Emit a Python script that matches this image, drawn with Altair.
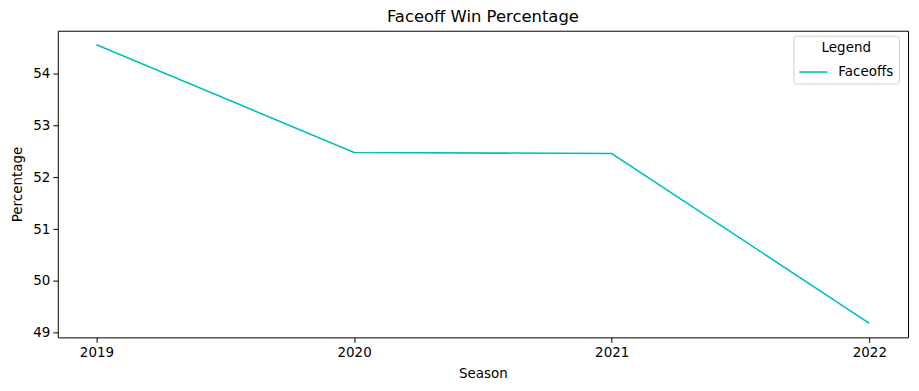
import altair as alt
import pandas as pd

seasons = [2019, 2020, 2021, 2022]
win_pct = [54.56, 52.48, 52.46, 49.18]
series = ["Faceoffs"] * 4

df = pd.DataFrame({"Season": seasons, "Percentage": win_pct, "Legend": series})

FONT = "DejaVu Sans"
FS = 13.5

chart = alt.Chart(df).mark_line(strokeWidth=1.6, clip=True).encode(
    x=alt.X("Season:Q",
            scale=alt.Scale(domain=[2018.85, 2022.15], nice=False, zero=False),
            axis=alt.Axis(values=seasons, format="d", title="Season")),
    y=alt.Y("Percentage:Q",
            scale=alt.Scale(domain=[48.91, 54.83], nice=False, zero=False),
            axis=alt.Axis(values=[49, 50, 51, 52, 53, 54], format="d", title="Percentage")),
    color=alt.Color("Legend:N",
                    scale=alt.Scale(domain=["Faceoffs"], range=["#00BFBF"]),
                    legend=alt.Legend(title="Legend", orient="none",
                                      legendX=739, legendY=5,
                                      symbolType="stroke", symbolSize=800,
                                      symbolStrokeWidth=1.6, labelOffset=10,
                                      titleAnchor="middle", titleFontWeight="normal",
                                      titleFont=FONT, titleFontSize=FS, titleColor="black",
                                      titlePadding=3,
                                      labelFont=FONT, labelFontSize=FS, labelColor="black",
                                      fillColor="white", strokeColor="#d0d0d0",
                                      cornerRadius=3, padding=5)),
).properties(
    width=854, height=308,
    title=alt.TitleParams("Faceoff Win Percentage", font=FONT, fontSize=16.5,
                          fontWeight="normal", color="black", offset=5),
    padding={"left": 50, "top": 22, "right": 3, "bottom": 45},
    autosize=alt.AutoSizeParams(type="none"),
).configure_view(
    stroke="black", strokeWidth=1
).configure_axis(
    grid=False, domain=False, tickColor="black", tickSize=5, tickWidth=1,
    labelFont=FONT, labelFontSize=FS, labelColor="black", labelPadding=3,
    titleFont=FONT, titleFontSize=FS, titleColor="black", titleFontWeight="normal",
).configure_axisX(titlePadding=8).configure_axisY(titlePadding=8)

chart.save("out.html", embed_options={"renderer": "svg", "actions": False})
